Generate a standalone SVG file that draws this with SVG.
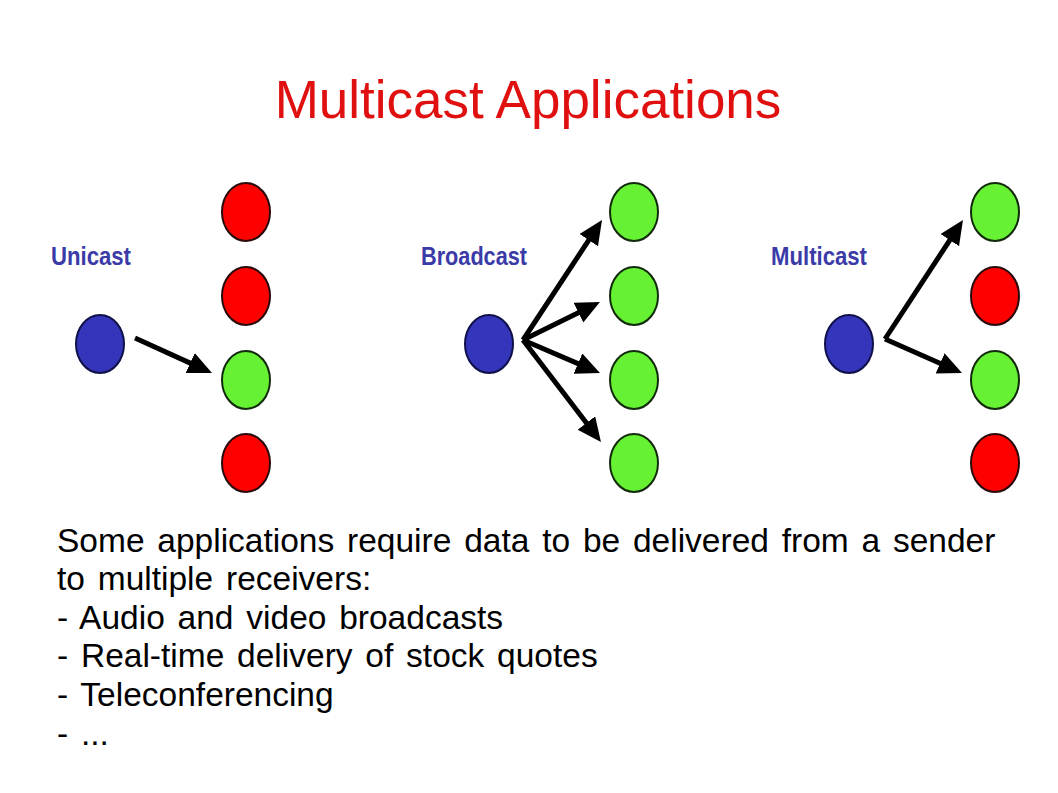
<svg xmlns="http://www.w3.org/2000/svg" width="1058" height="793" viewBox="0 0 1058 793">
<style>
.title{font-family:"Liberation Sans",Arial,sans-serif;font-size:53px;fill:#e01010}
.lbl{font-family:"Liberation Sans",Arial,sans-serif;font-size:26px;font-weight:bold;fill:#3b3ba8}
.body{font-family:"Liberation Sans",Arial,sans-serif;font-size:33.5px;fill:#000;word-spacing:3.5px}
.red{fill:#ff0000;stroke:#2a0a0a;stroke-width:2}
.green{fill:#66f233;stroke:#112a0a;stroke-width:2}
.blue{fill:#3535bb;stroke:#10104a;stroke-width:2}
.conn line{stroke:#000;stroke-width:5;marker-end:url(#ah)}
</style>
<defs>
<marker id="ah" markerUnits="userSpaceOnUse" markerWidth="26" markerHeight="24" refX="14" refY="11" orient="auto">
<path d="M0,0 L24,11 L0,22 z" fill="#000"/>
</marker>
</defs>
<rect width="1058" height="793" fill="#fff"/>
<text class="title" x="528" y="118" text-anchor="middle">Multicast Applications</text>

<g id="unicast">
<text class="lbl" x="51" y="265" textLength="80" lengthAdjust="spacingAndGlyphs">Unicast</text>
<ellipse id="u-sender" class="blue" cx="100" cy="344" rx="24" ry="29"/>
<ellipse id="u-r1" class="red" cx="246" cy="212" rx="24" ry="29"/>
<ellipse id="u-r2" class="red" cx="246" cy="296" rx="24" ry="29"/>
<ellipse id="u-r3" class="green" cx="246" cy="380" rx="24" ry="29"/>
<ellipse id="u-r4" class="red" cx="246" cy="463" rx="24" ry="29"/>
</g>

<g id="broadcast">
<text class="lbl" x="421" y="265" textLength="106" lengthAdjust="spacingAndGlyphs">Broadcast</text>
<ellipse id="b-sender" class="blue" cx="489" cy="344" rx="24" ry="29"/>
<ellipse id="b-r1" class="green" cx="634" cy="212" rx="24" ry="29"/>
<ellipse id="b-r2" class="green" cx="634" cy="296" rx="24" ry="29"/>
<ellipse id="b-r3" class="green" cx="634" cy="380" rx="24" ry="29"/>
<ellipse id="b-r4" class="green" cx="634" cy="463" rx="24" ry="29"/>
</g>

<g id="multicast">
<text class="lbl" x="771" y="265" textLength="96" lengthAdjust="spacingAndGlyphs">Multicast</text>
<ellipse id="m-sender" class="blue" cx="849" cy="344" rx="24" ry="29"/>
<ellipse id="m-r1" class="green" cx="995" cy="212" rx="24" ry="29"/>
<ellipse id="m-r2" class="red" cx="995" cy="296" rx="24" ry="29"/>
<ellipse id="m-r3" class="green" cx="995" cy="380" rx="24" ry="29"/>
<ellipse id="m-r4" class="red" cx="995" cy="463" rx="24" ry="29"/>
</g>

<g id="connectors" class="conn">
<line x1="135" y1="338" x2="202.9" y2="368.9"/>
<line x1="523" y1="340" x2="596.5" y2="228.4"/>
<line x1="523" y1="340" x2="591.0" y2="306.4"/>
<line x1="523" y1="340" x2="590.8" y2="369.1"/>
<line x1="523" y1="340" x2="594.9" y2="434.1"/>
<line x1="885" y1="339" x2="957.5" y2="228.4"/>
<line x1="885" y1="339" x2="952.9" y2="369.0"/>
</g>

<g id="description">
<text class="body" x="57" y="552">Some applications require data to be delivered from a sender</text>
<text class="body" x="57" y="590">to multiple receivers:</text>
<text class="body" x="57" y="629">- Audio and video broadcasts</text>
<text class="body" x="57" y="667">- Real-time delivery of stock quotes</text>
<text class="body" x="57" y="706">- Teleconferencing</text>
<text class="body" x="57" y="745">- ...</text>
</g>
</svg>
